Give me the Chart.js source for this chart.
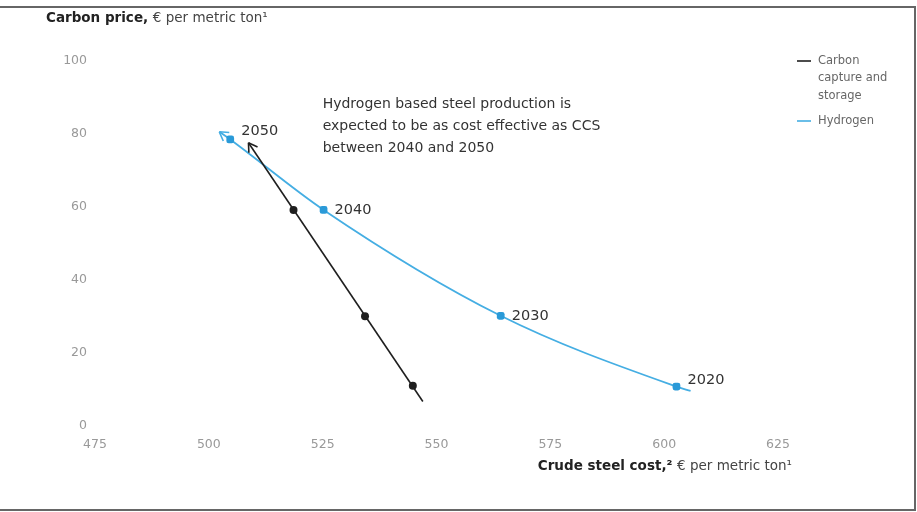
<!DOCTYPE html>
<html>
<head>
<meta charset="utf-8">
<script src="https://cdn.jsdelivr.net/npm/chart.js@4"></script>
<style>
  html, body { margin: 0; padding: 0; background: #fff; }
  #wrap { width: 917px; height: 512px; position: relative; }
</style>
</head>
<body>
<div id="wrap"><canvas id="chart" width="917" height="512"></canvas></div>
<script>
// values
const years = ['2020', '2030', '2040', '2050'];
const hydrogenCost = [602.7, 564.1, 525.2, 504.7];
const hydrogenPrice = [10.8, 30.2, 59.2, 78.5];
const ccsCost = [544.8, 534.3, 518.6];
const ccsPrice = [11, 30.1, 59.2];
// where the lines start and where their arrows end
const hydrogenEnds = [[605.8, 9.6], [502.3, 80.6]];
const ccsEnds = [[547.0, 6.7], [508.7, 77.6]];
const xTicks = [475, 500, 525, 550, 575, 600, 625];
const yTicks = [0, 20, 40, 60, 80, 100];

const blue = '#45aee3';
const blueDot = '#2a9ad8';
const dark = '#1f1f1f';
const font = '"DejaVu Sans", sans-serif';

function points(xs, ys, ends) {
  const pts = [{ x: ends[0][0], y: ends[0][1] }];
  xs.forEach(function (x, i) { pts.push({ x: x, y: ys[i] }); });
  pts.push({ x: ends[1][0], y: ends[1][1] });
  return pts;
}
function radii(n, r) {
  return [0].concat(new Array(n).fill(r)).concat([0]);
}

const extras = {
  id: 'extras',
  afterDatasetsDraw: function (chart) {
    const ctx = chart.ctx;
    const xs = chart.scales.x, ys = chart.scales.y;
    // arrow heads at the end of each line
    chart.data.datasets.forEach(function (ds, di) {
      if (!ds.showLine) return;
      const meta = chart.getDatasetMeta(di);
      const n = meta.data.length;
      const a = meta.data[n - 1], b = meta.data[n - 2];
      const ang = Math.atan2(a.y - b.y, a.x - b.x);
      ctx.save();
      ctx.strokeStyle = ds.borderColor;
      ctx.lineWidth = 1.6;
      ctx.beginPath();
      [-0.55, 0.55].forEach(function (d) {
        ctx.moveTo(a.x, a.y);
        ctx.lineTo(a.x - 10 * Math.cos(ang + d), a.y - 10 * Math.sin(ang + d));
      });
      ctx.stroke();
      ctx.restore();
    });
    // year labels beside hydrogen points
    ctx.save();
    ctx.fillStyle = '#333';
    ctx.font = '14.5px ' + font;
    ctx.textBaseline = 'middle';
    years.forEach(function (yr, i) {
      const px = xs.getPixelForValue(hydrogenCost[i]);
      const py = ys.getPixelForValue(hydrogenPrice[i]);
      const dy = i === 0 ? -6 : (i === 3 ? -8 : 0);
      ctx.fillText(yr, px + 11, py + dy);
    });
    // annotation
    ctx.font = '14px ' + font;
    const ax = xs.getPixelForValue(525);
    const ay = ys.getPixelForValue(88);
    ['Hydrogen based steel production is',
     'expected to be as cost effective as CCS',
     'between 2040 and 2050'].forEach(function (t, i) {
      ctx.fillText(t, ax, ay + i * 22);
    });
    ctx.restore();
  },
  afterDraw: function (chart) {
    const ctx = chart.ctx;
    ctx.save();
    ctx.textBaseline = 'middle';
    // y axis title
    ctx.fillStyle = '#222';
    ctx.font = 'bold 13.5px ' + font;
    let t = 'Carbon price, ';
    ctx.fillText(t, 46, 18);
    let w = ctx.measureText(t).width;
    ctx.font = '13.5px ' + font;
    ctx.fillStyle = '#444';
    ctx.fillText('€ per metric ton¹', 46 + w, 18);
    // x axis title, right aligned
    const b1 = 'Crude steel cost,² ', b2 = '€ per metric ton¹';
    ctx.font = '13.5px ' + font;
    const w2 = ctx.measureText(b2).width;
    ctx.font = 'bold 13.5px ' + font;
    const w1 = ctx.measureText(b1).width;
    const right = 792;
    ctx.fillStyle = '#222';
    ctx.fillText(b1, right - w2 - w1, 466);
    ctx.font = '13.5px ' + font;
    ctx.fillStyle = '#444';
    ctx.fillText(b2, right - w2, 466);
    // legend
    ctx.font = '11.5px ' + font;
    ctx.fillStyle = '#666';
    ctx.lineWidth = 1.6;
    ctx.strokeStyle = dark;
    ctx.beginPath(); ctx.moveTo(797, 61); ctx.lineTo(811, 61); ctx.stroke();
    ['Carbon', 'capture and', 'storage'].forEach(function (s, i) {
      ctx.fillText(s, 818, 61 + i * 17.5);
    });
    ctx.strokeStyle = blue;
    ctx.beginPath(); ctx.moveTo(797, 121); ctx.lineTo(811, 121); ctx.stroke();
    ctx.fillText('Hydrogen', 818, 121);
    // frame
    ctx.strokeStyle = '#666';
    ctx.lineWidth = 2;
    ctx.beginPath();
    ctx.moveTo(0, 7); ctx.lineTo(915, 7); ctx.lineTo(915, 510); ctx.lineTo(0, 510);
    ctx.stroke();
    ctx.restore();
  }
};

new Chart(document.getElementById('chart').getContext('2d'), {
  type: 'scatter',
  data: {
    datasets: [{
      label: 'Carbon capture and storage',
      data: ccsEnds.map(function (p) { return { x: p[0], y: p[1] }; }),
      showLine: true,
      borderColor: dark,
      borderWidth: 1.6,
      pointRadius: 0,
      tension: 0
    }, {
      label: 'CCS points',
      data: ccsCost.map(function (x, i) { return { x: x, y: ccsPrice[i] }; }),
      showLine: false,
      backgroundColor: dark,
      pointBackgroundColor: dark,
      pointBorderWidth: 0,
      pointRadius: 4
    }, {
      label: 'Hydrogen',
      data: points(hydrogenCost, hydrogenPrice, hydrogenEnds),
      showLine: true,
      borderColor: blue,
      borderWidth: 1.8,
      backgroundColor: blueDot,
      pointBackgroundColor: blueDot,
      pointBorderWidth: 0,
      pointStyle: 'rectRounded',
      pointRadius: radii(hydrogenCost.length, 4.5),
      cubicInterpolationMode: 'monotone'
    }]
  },
  options: {
    responsive: false,
    animation: false,
    layout: { padding: { left: 0, top: 61, right: 139, bottom: 0 } },
    plugins: { legend: { display: false }, tooltip: { enabled: false } },
    scales: {
      x: {
        type: 'linear',
        min: 475, max: 625,
        afterBuildTicks: function (s) { s.ticks = xTicks.map(function (v) { return { value: v }; }); },
        afterFit: function (s) { s.height = 86; },
        grid: { display: false, drawTicks: false },
        border: { display: false },
        ticks: { color: '#999', font: { family: font, size: 12.5 }, padding: 11 }
      },
      y: {
        type: 'linear',
        min: 0, max: 100,
        afterBuildTicks: function (s) { s.ticks = yTicks.map(function (v) { return { value: v }; }); },
        afterFit: function (s) { s.width = 95; },
        grid: { display: false, drawTicks: false },
        border: { display: false },
        ticks: { color: '#999', font: { family: font, size: 12.5 }, padding: 8 }
      }
    }
  },
  plugins: [extras]
});
</script>
</body>
</html>
